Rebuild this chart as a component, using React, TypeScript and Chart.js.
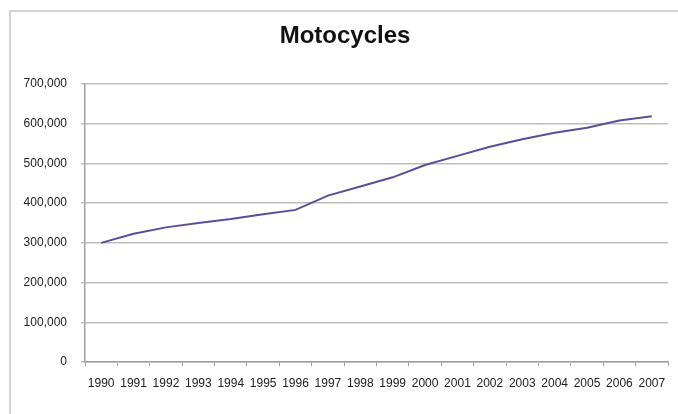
import React, { useEffect, useRef } from "react";
import { Chart, registerables } from "chart.js";

Chart.register(...registerables);

const years = ["1990","1991","1992","1993","1994","1995","1996","1997","1998","1999","2000","2001","2002","2003","2004","2005","2006","2007"];
const motorcycles = [300000, 323000, 339000, 350000, 360000, 372000, 383000, 419000, 442000, 465000, 496000, 519000, 542000, 561000, 577000, 590000, 608000, 619000];
const titleText = "Motocycles";

const FONT = "'Liberation Sans', Arial, sans-serif";

const framePlugin = {
  id: "frame",
  beforeDraw(chart: any) {
    const ctx = chart.ctx;
    ctx.save();
    ctx.fillStyle = "#ffffff";
    ctx.fillRect(0, 0, chart.width, chart.height);
    ctx.strokeStyle = "#d4d4d4";
    ctx.lineWidth = 2;
    ctx.strokeRect(10, 11, chart.width + 10, chart.height + 10);
    ctx.restore();
  },
  afterDraw(chart: any) {
    const ctx = chart.ctx;
    ctx.save();
    ctx.fillStyle = "#111111";
    ctx.font = `bold 24px ${FONT}`;
    ctx.textAlign = "center";
    ctx.textBaseline = "middle";
    ctx.fillText(titleText, 345, 36);
    ctx.restore();
  },
};

export default function App() {
  const ref = useRef<HTMLCanvasElement>(null);
  useEffect(() => {
    document.body.style.margin = "0";
    const chart = new Chart(ref.current!, {
      type: "line",
      data: {
        labels: years,
        datasets: [
          {
            label: "Motocycles",
            data: motorcycles,
            borderColor: "#5a4e9c",
            borderWidth: 2,
            pointRadius: 0,
            tension: 0,
            fill: false,
          },
        ],
      },
      options: {
        animation: false,
        responsive: false,
        maintainAspectRatio: false,
        layout: { padding: { left: 0, right: 10, top: 84, bottom: 0 } },
        plugins: {
          legend: { display: false },
          tooltip: { enabled: false },
          title: { display: false },
        },
        scales: {
          x: {
            offset: true,
            grid: {
              offset: true,
              drawOnChartArea: false,
              drawTicks: true,
              tickLength: 4,
              color: "#a0a0a0",
              lineWidth: 1,
            },
            border: { display: true, color: "#a0a0a0", width: 1.5 },
            ticks: {
              color: "#222222",
              font: { family: FONT, size: 12 },
              padding: 10,
              maxRotation: 0,
              autoSkip: false,
            },
            afterFit(scale: any) {
              scale.height = 52;
            },
          },
          y: {
            min: 0,
            max: 700000,
            grid: {
              color: "#bdbdbd",
              lineWidth: 1.5,
              drawTicks: true,
              tickLength: 4,
            },
            border: { display: true, color: "#a0a0a0", width: 1.5 },
            ticks: {
              stepSize: 100000,
              color: "#222222",
              font: { family: FONT, size: 12 },
              padding: 14,
              callback: (v: any) => Number(v).toLocaleString("en-US"),
            },
            afterFit(scale: any) {
              scale.width = 85;
            },
          },
        },
      },
      plugins: [framePlugin],
    });
    return () => chart.destroy();
  }, []);
  return (
    <div style={{ width: 678, height: 414 }}>
      <canvas ref={ref} width={678} height={414} style={{ display: "block" }} />
    </div>
  );
}
